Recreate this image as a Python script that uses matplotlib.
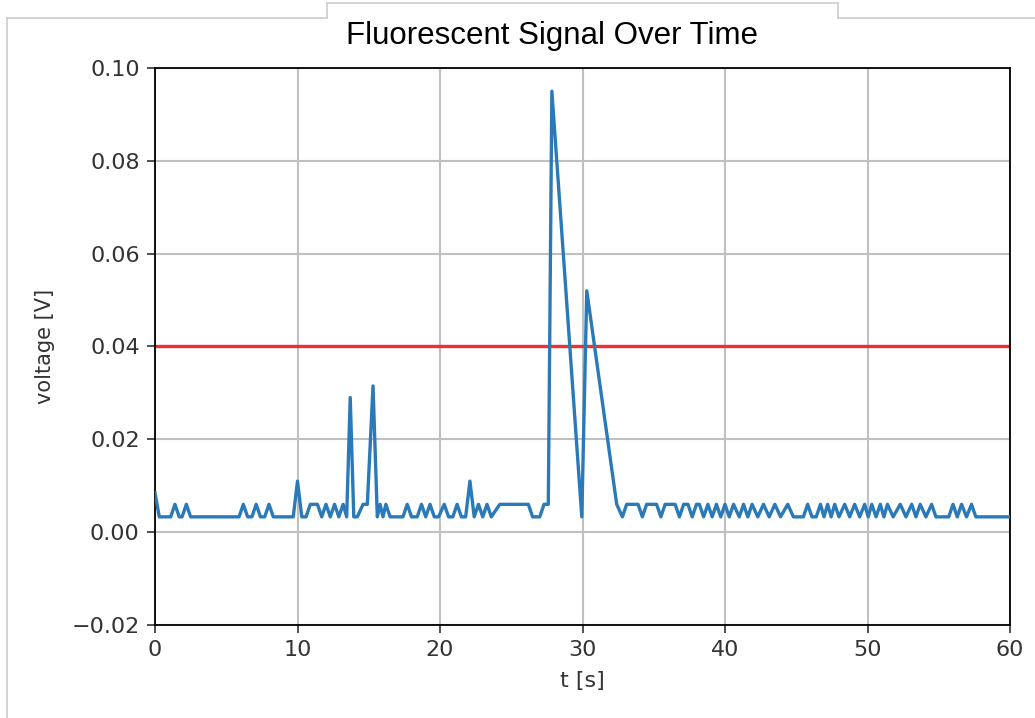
import matplotlib
matplotlib.use("Agg")
import matplotlib.pyplot as plt
from matplotlib.lines import Line2D

# ---- data (t in s, voltage in V) --------------------------------------------
LOW = 0.0033
HIGH = 0.006

t_s = [
    0.0, 0.3, 1.1, 1.4, 1.7, 1.9, 2.2, 2.5,
    5.9, 6.2, 6.5, 6.8, 7.1, 7.4, 7.7, 8.0, 8.3,
    9.7, 10.0, 10.3, 10.6, 10.9, 11.4, 11.7, 12.0, 12.3, 12.6, 12.9, 13.2,
    13.45, 13.7, 13.95, 14.2, 14.6, 14.9, 15.3, 15.6, 15.8, 16.0, 16.2, 16.5,
    17.4, 17.7, 18.0, 18.4, 18.7, 19.0, 19.3, 19.6, 19.9, 20.3, 20.6, 20.9,
    21.2, 21.5, 21.8, 22.1, 22.4, 22.7, 23.0, 23.3, 23.6, 24.2, 26.2, 26.5,
    27.0, 27.3, 27.6, 27.85, 29.95, 30.3, 32.4, 32.8, 33.1, 33.9, 34.2, 34.5,
    35.2, 35.5, 35.8, 36.5, 36.8, 37.1, 37.4, 37.7, 38.0, 38.2, 38.5, 38.8,
    39.1, 39.4, 39.7, 40.0, 40.3, 40.6, 41.0, 41.3, 41.6, 41.9, 42.3, 42.7,
    43.1, 43.5, 43.9, 44.4, 44.8, 45.5, 45.8, 46.1, 46.4, 46.7, 46.95, 47.2,
    47.45, 47.7, 48.0, 48.4, 48.75, 49.1, 49.45, 49.8, 50.05, 50.3, 50.6,
    50.9, 51.15, 51.4, 51.8, 52.3, 52.7, 53.1, 53.4, 53.7, 54.1, 54.5, 54.8,
    55.7, 56.0, 56.3, 56.6, 56.95, 57.3, 57.6, 60.0,
]

volts = [
    0.0085, LOW, LOW, HIGH, LOW, LOW, HIGH, LOW,
    LOW, HIGH, LOW, LOW, HIGH, LOW, LOW, HIGH, LOW,
    LOW, 0.011, LOW, LOW, HIGH, HIGH, LOW, HIGH, LOW, HIGH, LOW, HIGH,
    LOW, 0.029, LOW, LOW, HIGH, HIGH, 0.0315, LOW, HIGH, LOW, HIGH, LOW,
    LOW, HIGH, LOW, LOW, HIGH, LOW, HIGH, LOW, LOW, HIGH, LOW, LOW,
    HIGH, LOW, LOW, 0.011, LOW, HIGH, LOW, HIGH, LOW, HIGH, HIGH, LOW,
    LOW, HIGH, HIGH, 0.095, LOW, 0.052, HIGH, LOW, HIGH, HIGH, LOW, HIGH,
    HIGH, LOW, HIGH, HIGH, LOW, HIGH, HIGH, LOW, HIGH, HIGH, LOW, HIGH,
    LOW, HIGH, LOW, HIGH, LOW, HIGH, LOW, HIGH, LOW, HIGH, LOW, HIGH,
    LOW, HIGH, LOW, HIGH, LOW, LOW, HIGH, LOW, LOW, HIGH, LOW, HIGH,
    LOW, HIGH, LOW, HIGH, LOW, HIGH, LOW, HIGH, LOW, HIGH, LOW,
    HIGH, LOW, HIGH, LOW, HIGH, LOW, HIGH, LOW, HIGH, LOW, HIGH, LOW,
    LOW, HIGH, LOW, HIGH, LOW, HIGH, LOW, LOW,
]

THRESHOLD_V = 0.04
X_TICKS = [0, 10, 20, 30, 40, 50, 60]
Y_TICKS = [-0.02, 0.00, 0.02, 0.04, 0.06, 0.08, 0.10]
# -----------------------------------------------------------------------------

W, H = 1035, 718
fig = plt.figure(figsize=(W / 100, H / 100), dpi=100)
ax = fig.add_axes([155 / W, 1 - 625 / H, (1010 - 155) / W, (625 - 68) / H])

ax.plot(t_s, volts, color="#2a7ab9", lw=2.4, zorder=3)
ax.axhline(THRESHOLD_V, color="#f03030", lw=2.4, zorder=2)

ax.set_xlim(0, 60)
ax.set_ylim(-0.02, 0.10)
ax.set_xticks(X_TICKS)
ax.set_yticks(Y_TICKS)
ax.set_yticklabels([f"{v:.2f}".replace("-", "\u2212") for v in Y_TICKS])
ax.grid(True, color="#c0c0c0", lw=1.5)
ax.set_axisbelow(True)
ax.tick_params(labelsize=16, length=6, width=1.2, colors="#333333", pad=5)
for sp in ax.spines.values():
    sp.set_linewidth(1.3)
ax.set_xlabel("t [s]", fontsize=16, color="#333333", labelpad=8)
ax.set_ylabel("voltage [V]", fontsize=15, color="#333333", labelpad=12)

fig.text(552 / W, 1 - 36 / H, "Fluorescent Signal Over Time",
         ha="center", va="center", fontsize=22.5, family="Liberation Sans")

# light frame lines of the screenshot around the chart and the title box
fc = "#cccccc"
for xs, ys in [
    ([7, 327], [18, 18]), ([838, 1035], [18, 18]), ([7, 7], [18, 718]),
    ([327, 838], [3, 3]), ([327, 327], [3, 18]), ([838, 838], [3, 18]),
]:
    fig.add_artist(Line2D([x / W for x in xs], [1 - y / H for y in ys],
                          color=fc, lw=1.2, transform=fig.transFigure))

fig.savefig("out.png", dpi=100)
